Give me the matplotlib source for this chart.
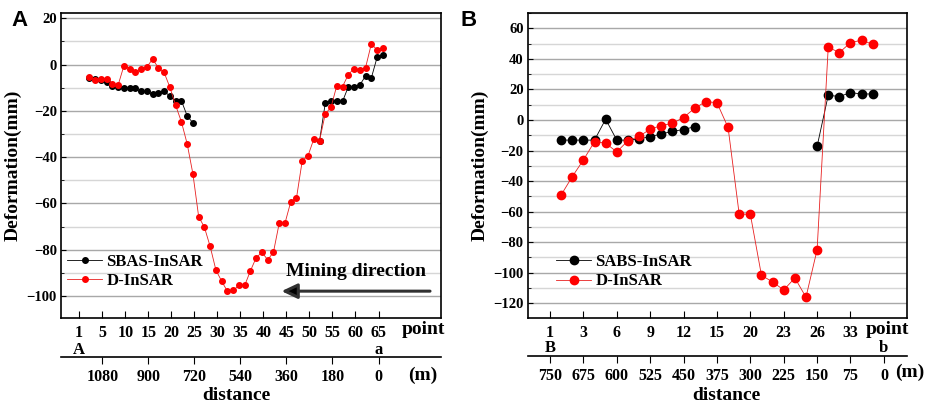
import numpy as np
import matplotlib.pyplot as plt
from matplotlib.ticker import MultipleLocator
from matplotlib.transforms import blended_transform_factory

plt.rcParams['font.family'] = 'Liberation Serif'
plt.rcParams['font.weight'] = 'bold'

# ---- panel A : profile A-a ----
a_point = np.arange(1, 53)
a_dinsar = [-5.4, -6.5, -6.0, -6.0, -8.2, -8.9, -0.6, -1.7, -3.4, -2.1,
            -1.0, 2.4, -1.4, -3.4, -9.8, -17.6, -24.7, -34.2, -47.2, -65.7,
            -70.3, -78.6, -88.8, -93.6, -98.0, -97.6, -95.4, -95.4, -89.1, -83.4,
            -81.1, -84.4, -81.0, -68.5, -68.5, -59.3, -57.6, -41.5, -39.4, -32.2,
            -32.8, -21.3, -18.4, -9.1, -9.5, -4.3, -1.7, -2.4, -1.3, 8.9,
            6.4, 7.1]
a_sbas = ([-5.8, -6.3, -6.8, -7.5, -9.2, -9.6, -9.9, -10.3, -10.3, -11.6,
           -11.6, -12.8, -12.2, -11.6, -13.5, -15.9, -15.6, -22.1, -25.2]
          + [np.nan] * 21
          + [-33.0, -16.7, -15.7, -15.6, -15.9, -9.6, -9.6, -8.8, -4.9, -5.8,
             3.1, 4.1])
a_tick_labels = ['1', '5', '10', '15', '20', '25', '30', '35', '40', '45',
                 '50', '55', '60', '65']
a_dist_ticks = [1080, 900, 720, 540, 360, 180, 0]

# ---- panel B : profile B-b ----
b_point = np.arange(1, 30)
b_dinsar = [-49.1, -37.1, -26.2, -14.2, -15.2, -20.9, -13.6, -10.8, -6.0, -3.7,
            -2.2, 1.6, 7.7, 12.0, 11.3, -4.9, -61.7, -61.7, -101.7, -106.0,
            -111.3, -103.4, -116.0, -84.9, 47.6, 44.1, 50.6, 52.2, 49.5]
b_sbas = ([-13.2, -13.2, -13.2, -13.2, 0.5, -13.2, -13.2, -12.4, -10.9, -9.2,
           -7.4, -6.3, -4.4]
          + [np.nan] * 10
          + [-17.3, 16.2, 15.3, 17.9, 17.0, 17.0])
b_tick_labels = ['1', '3', '6', '9', '12', '15', '20', '23', '26', '33']
b_dist_ticks = [750, 675, 600, 525, 450, 375, 300, 225, 150, 75, 0]

fig = plt.figure(figsize=(9.27, 4.08), dpi=100)
axA = fig.add_axes([0.0658, 0.2206, 0.410, 0.7475])
axB = fig.add_axes([0.5693, 0.2199, 0.4088, 0.749])


def style_axis(ax, major, minor):
    ax.yaxis.set_major_locator(MultipleLocator(major))
    ax.yaxis.set_minor_locator(MultipleLocator(minor))
    ax.grid(True, which='major', axis='y', color='#a8a8a8', lw=1.0)
    ax.grid(True, which='minor', axis='y', color='#d6d6d6', lw=1.0)
    ax.set_axisbelow(True)
    ax.tick_params(axis='y', which='both', direction='in', labelsize=10.5, pad=3)
    ax.tick_params(axis='y', which='minor', length=2.5)
    ax.tick_params(axis='x', direction='in', length=5, labelsize=11.5, pad=5)
    for s in ax.spines.values():
        s.set_linewidth(1.2)
    ax.set_ylabel('Deformation(mm)', fontsize=14, fontweight='bold')


# ---------- A ----------
axA.plot(a_point, a_sbas, '-o', color='black', lw=0.6, ms=4,
         label='SBAS-InSAR')
axA.plot(a_point, a_dinsar, '-o', color='#e82020', mec='red', mfc='red',
         lw=0.6, ms=4, label='D-InSAR')
axA.set_xlim(-3.92, 62.12)
axA.set_ylim(-109.5, 22.3)
style_axis(axA, 20, 10)
a_ticks = [-0.75 + 4 * k for k in range(len(a_tick_labels))]
axA.set_xticks(a_ticks)
axA.set_xticklabels(a_tick_labels)
axA.yaxis.set_label_coords(-0.103, 0.5)

secA = axA.secondary_xaxis(-0.127, functions=(lambda x: (51.25 - x) * 22.5,
                                              lambda d: 51.25 - d / 22.5))
secA.set_xticks(a_dist_ticks)
secA.tick_params(direction='out', length=5, labelsize=11.5, pad=4)
secA.spines['bottom'].set_linewidth(1.2)

trA = blended_transform_factory(axA.transData, axA.transAxes)
axA.text(a_ticks[0], -0.105, 'A', transform=trA, ha='center', va='center',
         fontsize=12)
axA.text(a_ticks[-1], -0.105, 'a', transform=trA, ha='center', va='center',
         fontsize=12)

axA.legend(loc='center left', bbox_to_anchor=(0.016, 0.153), frameon=False,
           fontsize=12, handlelength=2.1, handletextpad=0.25,
           labelspacing=0.2, borderpad=0, borderaxespad=0)

axA.annotate('', xy=(34.4, -97.9), xytext=(60.2, -97.9),
             arrowprops=dict(arrowstyle='-|>,head_length=0.95,head_width=0.45',
                             mutation_scale=10, lw=2.2, color='#303030',
                             fc='black', shrinkA=0, shrinkB=0))
axA.text(47.35, -89.5, 'Mining direction', ha='center', va='center',
         fontsize=14)

# ---------- B ----------
axB.plot(b_point, b_sbas, '-o', color='black', lw=0.6, ms=6,
         label='SABS-InSAR')
axB.plot(b_point, b_dinsar, '-o', color='#e82020', mec='red', mfc='red',
         lw=0.6, ms=6, label='D-InSAR')
axB.set_xlim(-2.0, 32.05)
axB.set_ylim(-129.8, 70.2)
style_axis(axB, 20, 10)
b_ticks = [3 * k for k in range(len(b_tick_labels))]
axB.set_xticks(b_ticks)
axB.set_xticklabels(b_tick_labels)
axB.yaxis.set_label_coords(-0.102, 0.5)

secB = axB.secondary_xaxis(-0.123, functions=(lambda u: 750 - 25 * u,
                                              lambda d: (750 - d) / 25))
secB.set_xticks(b_dist_ticks)
secB.tick_params(direction='out', length=5, labelsize=11.5, pad=4)
secB.spines['bottom'].set_linewidth(1.2)

trB = blended_transform_factory(axB.transData, axB.transAxes)
axB.text(0, -0.097, 'B', transform=trB, ha='center', va='center', fontsize=12)
axB.text(30, -0.097, 'b', transform=trB, ha='center', va='center', fontsize=12)

axB.legend(loc='center left', bbox_to_anchor=(0.075, 0.152), frameon=False,
           fontsize=12, handlelength=2.1, handletextpad=0.25,
           labelspacing=0.2, borderpad=0, borderaxespad=0)

# ---------- loose labels ----------
W, H = 927, 408
for x, y, s in [(423, 330, 'point'), (423, 375, '(m)'), (236, 396, 'distance'),
                (887, 329, 'point'), (910, 372, '(m)'), (726, 395, 'distance')]:
    fig.text(x / W, 1 - y / H, s, ha='center', va='center', fontsize=14)

fig.text(20 / W, 1 - 21 / H, 'A', ha='center', va='center', fontsize=16,
         family='Liberation Sans', fontweight='bold')
fig.text(469 / W, 1 - 21 / H, 'B', ha='center', va='center', fontsize=16,
         family='Liberation Sans', fontweight='bold')

fig.savefig('out.png', dpi=100)
